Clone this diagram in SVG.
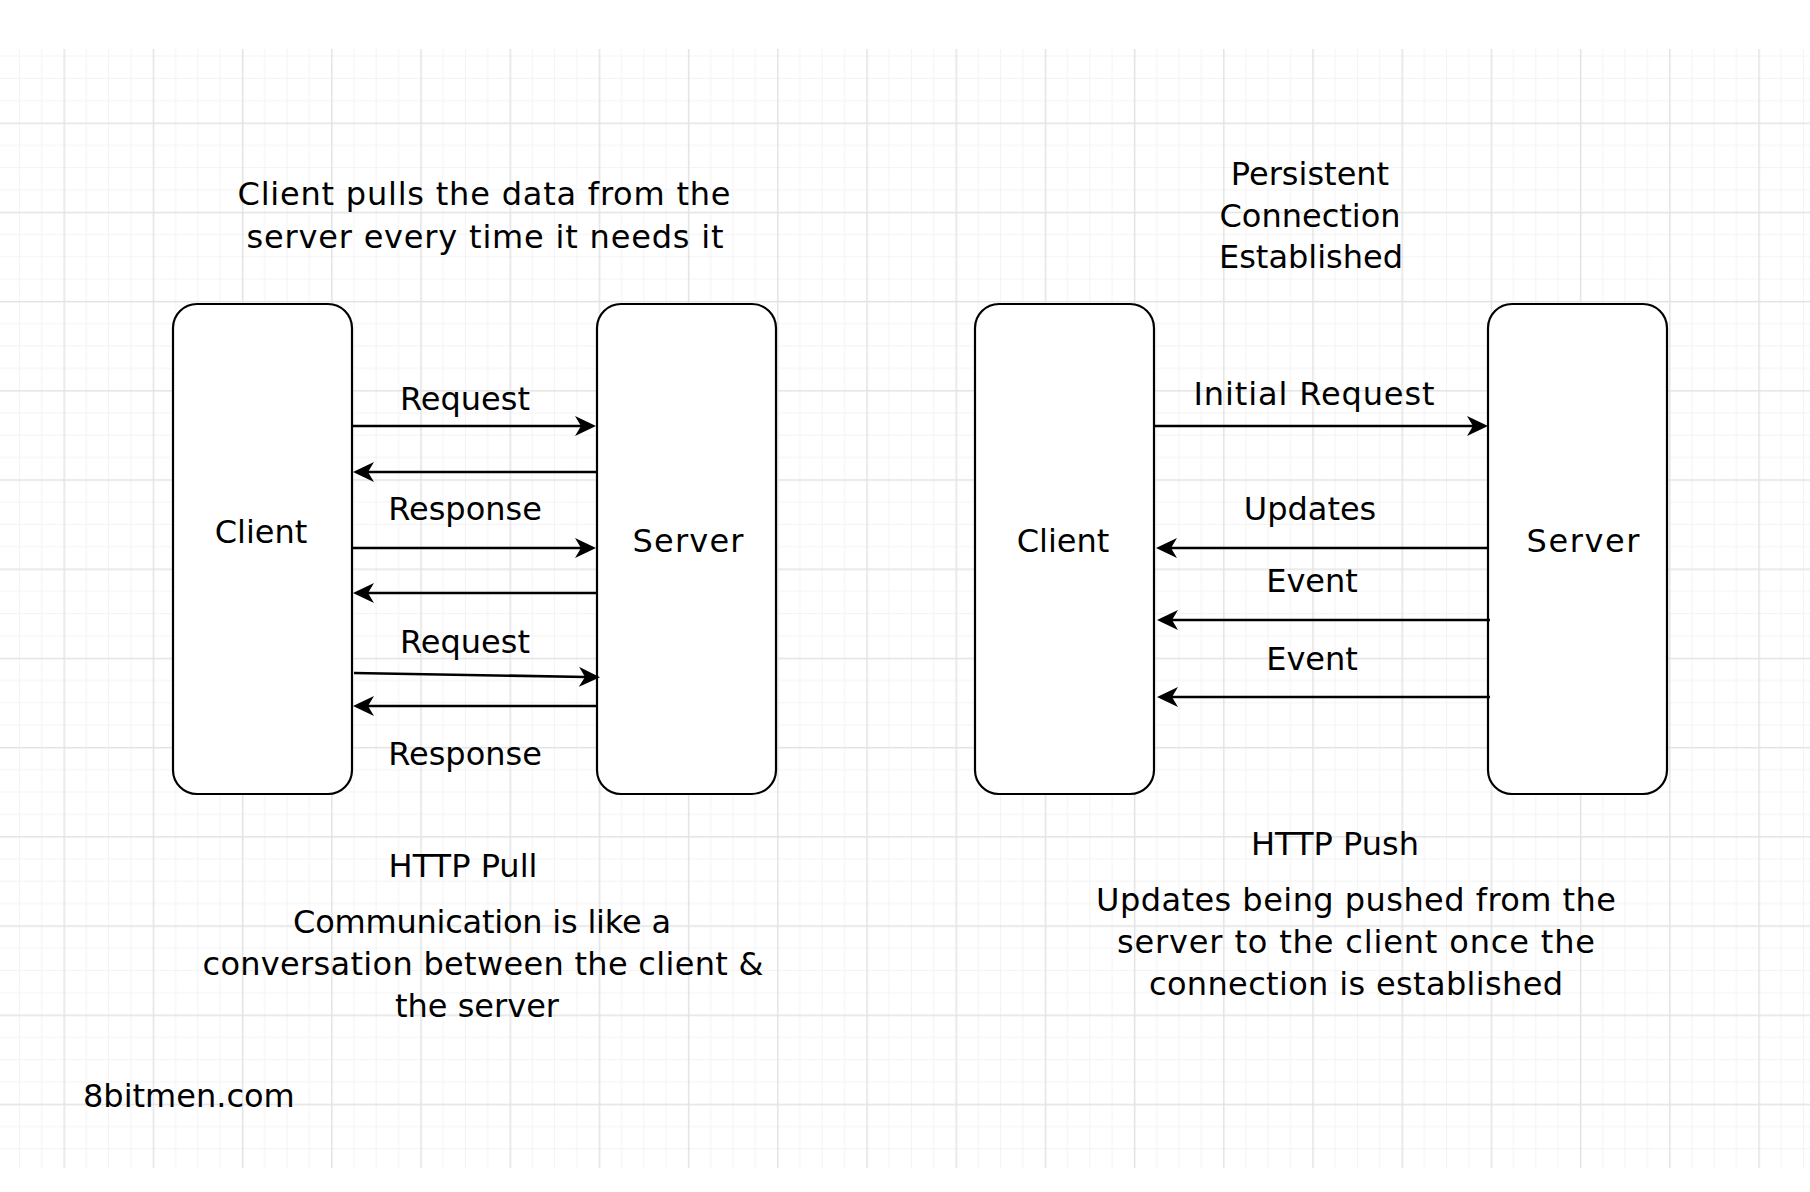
<svg xmlns="http://www.w3.org/2000/svg" width="1810" height="1192" viewBox="0 0 1810 1192">
  <defs>
    <pattern id="grid" x="63.5" y="33.3" width="89.2" height="89.2" patternUnits="userSpaceOnUse">
      <rect x="22.3" y="0" width="1" height="89.2" fill="#f3f3f3"/>
      <rect x="44.6" y="0" width="1" height="89.2" fill="#f3f3f3"/>
      <rect x="66.9" y="0" width="1" height="89.2" fill="#f3f3f3"/>
      <rect x="0" y="22.3" width="89.2" height="1" fill="#f3f3f3"/>
      <rect x="0" y="44.6" width="89.2" height="1" fill="#f3f3f3"/>
      <rect x="0" y="66.9" width="89.2" height="1" fill="#f3f3f3"/>
      <rect x="0" y="0" width="1.5" height="89.2" fill="#e3e3e3"/>
      <rect x="0" y="0" width="89.2" height="1.5" fill="#e3e3e3"/>
    </pattern>
    <marker id="ah" markerUnits="userSpaceOnUse" markerWidth="24" markerHeight="24" viewBox="0 0 24 24" refX="7" refY="10" orient="auto">
      <path d="M0,0 L21,10 L0,20 L6,10 Z" fill="#000"/>
    </marker>
  </defs>
  <style>
    .box { fill: #ffffff; stroke: #000; stroke-width: 2.2; }
    .t { font-family: "DejaVu Sans", sans-serif; font-size: 32px; fill: #000; text-anchor: middle; }
    .c { fill: none; stroke: #000; stroke-width: 2.6; marker-end: url(#ah); }
  </style>
  <rect x="0" y="0" width="1810" height="1192" fill="#ffffff"/>
  <rect x="0" y="49" width="1810" height="1119" fill="url(#grid)"/>

  <g id="pull-caption">
    <text class="t" x="484" y="205" textLength="493" lengthAdjust="spacing">Client pulls the data from the</text>
    <text class="t" x="485" y="248" textLength="477" lengthAdjust="spacing">server every time it needs it</text>
  </g>
  <g id="push-caption">
    <text class="t" x="1310" y="185">Persistent</text>
    <text class="t" x="1310" y="227">Connection</text>
    <text class="t" x="1311" y="268">Established</text>
  </g>

  <g id="client-pull">
    <rect class="box" x="173" y="304" width="179" height="490" rx="24"/>
    <text class="t" x="261" y="543">Client</text>
  </g>
  <g id="server-pull">
    <rect class="box" x="597" y="304" width="179" height="490" rx="24"/>
    <text class="t" x="688" y="552" textLength="111" lengthAdjust="spacing">Server</text>
  </g>
  <g id="client-push">
    <rect class="box" x="975" y="304" width="179" height="490" rx="24"/>
    <text class="t" x="1063" y="552">Client</text>
  </g>
  <g id="server-push">
    <rect class="box" x="1488" y="304" width="179" height="490" rx="24"/>
    <text class="t" x="1583" y="552" textLength="113" lengthAdjust="spacing">Server</text>
  </g>

  <g id="connectors">
    <line class="c" x1="352" y1="426" x2="582" y2="426"/>
    <line class="c" x1="597" y1="472" x2="367" y2="472"/>
    <line class="c" x1="352" y1="548" x2="582" y2="548"/>
    <line class="c" x1="597" y1="593" x2="367" y2="593"/>
    <line class="c" x1="354" y1="673" x2="586" y2="677"/>
    <line class="c" x1="597" y1="706" x2="367" y2="706"/>

    <line class="c" x1="1154" y1="426" x2="1474" y2="426"/>
    <line class="c" x1="1487" y1="548" x2="1170" y2="548"/>
    <line class="c" x1="1490" y1="620" x2="1171" y2="620"/>
    <line class="c" x1="1490" y1="697" x2="1171" y2="697"/>
  </g>

  <g id="connector-labels">
    <text class="t" x="465" y="410">Request</text>
    <text class="t" x="465" y="520">Response</text>
    <text class="t" x="465" y="653">Request</text>
    <text class="t" x="465" y="765">Response</text>
    <text class="t" x="1314" y="405" textLength="241" lengthAdjust="spacing">Initial Request</text>
    <text class="t" x="1310" y="520">Updates</text>
    <text class="t" x="1312" y="592">Event</text>
    <text class="t" x="1312" y="670">Event</text>
  </g>

  <g id="pull-footer">
    <text class="t" x="463" y="877">HTTP Pull</text>
    <text class="t" x="482" y="933" textLength="378" lengthAdjust="spacing">Communication is like a</text>
    <text class="t" x="483" y="975" textLength="561" lengthAdjust="spacing">conversation between the client &amp;</text>
    <text class="t" x="477" y="1017">the server</text>
  </g>
  <g id="push-footer">
    <text class="t" x="1335" y="855">HTTP Push</text>
    <text class="t" x="1356" y="911" textLength="520" lengthAdjust="spacing">Updates being pushed from the</text>
    <text class="t" x="1356" y="953" textLength="478" lengthAdjust="spacing">server to the client once the</text>
    <text class="t" x="1356" y="995" textLength="414" lengthAdjust="spacing">connection is established</text>
  </g>
  <g id="watermark">
    <text class="t" x="83" y="1107" style="text-anchor: start">8bitmen.com</text>
  </g>
</svg>
